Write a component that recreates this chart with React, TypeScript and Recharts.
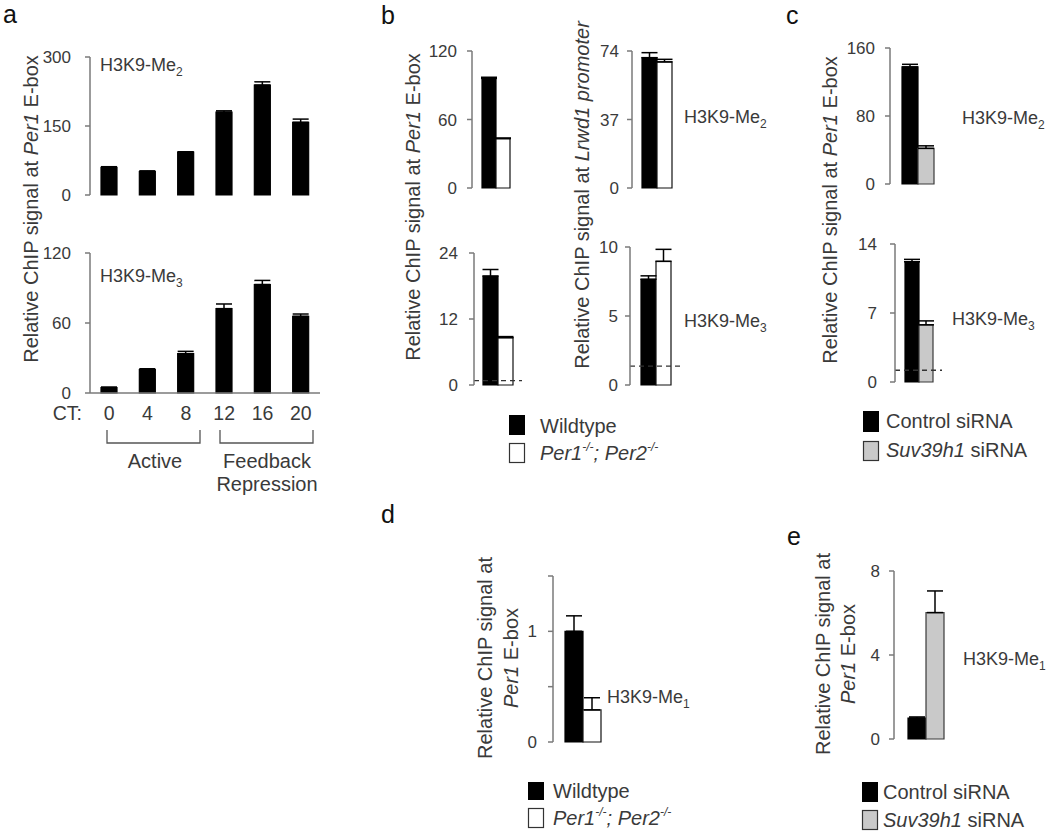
import React from "react";
import { BarChart, Bar, XAxis, YAxis, ErrorBar, ReferenceLine } from "recharts";

const FONT = '"Liberation Sans", Arial, sans-serif';
const INK = "#3a3a3a";
const AXIS = "#7a7a7a";

// panel a: H3K9 methylation at Per1 E-box across the day
const ctHours = ["0", "4", "8", "12", "16", "20"];
const me2ByCT = [60, 51, 93, 180, 239, 158];
const me2ByCTErr = [1.5, 1.5, 1, 3, 7, 7];
const me3ByCT = [4.6, 20, 33.7, 72.3, 93, 65.7];
const me3ByCTErr = [0.5, 0.8, 2, 4, 3.5, 2];

// panel b: wildtype vs Per1/Per2 double knockout
const bPer1Me2 = [96, 43.3];
const bPer1Me2Err = [1, 0.5];
const bLrwd1Me2 = [70.4, 68.1];
const bLrwd1Me2Err = [2.7, 1.4];
const bPer1Me3 = [19.8, 8.6];
const bPer1Me3Err = [1.2, 0.2];
const bLrwd1Me3 = [7.66, 8.96];
const bLrwd1Me3Err = [0.25, 0.87];
const bPer1Me3Bg = 0.8;
const bLrwd1Me3Bg = 1.37;

// panel c: control vs Suv39h1 siRNA
const cMe2 = [137.7, 41.9];
const cMe2Err = [3.1, 3];
const cMe3 = [12.2, 5.8];
const cMe3Err = [0.24, 0.4];
const cMe3Bg = 1.19;

// panels d, e: H3K9-Me1
const dMe1 = [1.0, 0.29];
const dMe1Err = [0.14, 0.11];
const eMe1 = [1.0, 6.02];
const eMe1Err = [0.05, 1.03];

const PAD = 12;

type BarStyle = { fill: string; stroke: string };
const BLACK: BarStyle = { fill: "#000", stroke: "#000" };
const WHITE: BarStyle = { fill: "#fff", stroke: "#111" };
const GREY: BarStyle = { fill: "#c9c9c9", stroke: "#3a3a3a" };

function pair(vals: number[], errs: number[]) {
  return [{ g: "", s0: vals[0], e0: [0, errs[0]], s1: vals[1], e1: [0, errs[1]] }];
}

function Mini(p: {
  left: number;
  top: number;
  base: number;
  right: number;
  max: number;
  ticks: number[];
  tickMargin: number;
  rows: any[];
  cat: string;
  keys: string[];
  errKeys: string[];
  styles: BarStyle[];
  barSize: number;
  bg?: number;
  fmt?: (v: number) => string;
  xLabels?: boolean;
}) {
  const YW = 50;
  const XH = p.xLabels ? 40 : 0;
  const plotH = p.base - p.top;
  const w = YW + (p.right - p.left) + 4;
  const h = PAD + plotH + XH + PAD;
  const baseY = PAD + plotH;
  const xTick = (t: any) => (
    <text x={t.x} y={baseY + 27} textAnchor="middle" fill={INK} fontSize={19.5} fontFamily={FONT}>
      {t.payload.value}
    </text>
  );
  return (
    <div style={{ position: "absolute", left: p.left - YW, top: p.top - PAD }}>
      <BarChart
        width={w}
        height={h}
        data={p.rows}
        margin={{ top: PAD, right: 4, bottom: PAD, left: 0 }}
        barGap={0}
        barSize={p.barSize}
      >
        <XAxis
          dataKey={p.cat}
          height={XH}
          axisLine={{ stroke: AXIS, strokeWidth: 1.5 }}
          tickLine={false}
          tick={p.xLabels ? xTick : false}
          interval={0}
        />
        <YAxis
          width={YW}
          domain={[0, p.max]}
          ticks={p.ticks}
          interval={0}
          tickSize={5}
          tickMargin={p.tickMargin}
          tickFormatter={p.fmt}
          axisLine={{ stroke: AXIS, strokeWidth: 1.5 }}
          tickLine={{ stroke: AXIS, strokeWidth: 1.5 }}
          tick={{ fill: INK, fontSize: 17, fontFamily: FONT }}
        />
        {p.keys.map((k, i) => (
          <Bar
            key={k}
            dataKey={k}
            fill={p.styles[i].fill}
            stroke={p.styles[i].stroke}
            strokeWidth={1.2}
            isAnimationActive={false}
          >
            <ErrorBar dataKey={p.errKeys[i]} width={8} stroke="#000" strokeWidth={1.5} direction="y" />
          </Bar>
        ))}
        {p.bg !== undefined && (
          <ReferenceLine y={p.bg} stroke="#333" strokeWidth={1.3} strokeDasharray="5 4" />
        )}
      </BarChart>
    </div>
  );
}

function YLabel({ x, y, gene, tail }: { x: number; y: number; gene: string; tail?: string }) {
  return (
    <text
      x={x}
      y={y}
      transform={`rotate(-90 ${x} ${y})`}
      textAnchor="middle"
      dominantBaseline="central"
      fontSize={20}
    >
      Relative ChIP signal at <tspan fontStyle="italic">{gene}</tspan>
      {tail ? ` ${tail}` : ""}
    </text>
  );
}

function Mark({ x, y, n }: { x: number; y: number; n: string }) {
  return (
    <text x={x} y={y} fontSize={18}>
      H3K9-Me<tspan fontSize={12} dy={5}>{n}</tspan>
    </text>
  );
}

function KnockoutLabel({ x, y }: { x: number; y: number }) {
  return (
    <text x={x} y={y} fontSize={20} fontStyle="italic">
      Per1<tspan fontSize={12} dy={-9}>-/-</tspan>
      <tspan dy={9}>; Per2</tspan>
      <tspan fontSize={12} dy={-9}>-/-</tspan>
    </text>
  );
}

export default function App() {
  const aRows2 = ctHours.map((c, i) => ({ ct: c, v: me2ByCT[i], e: [0, me2ByCTErr[i]] }));
  const aRows3 = ctHours.map((c, i) => ({ ct: c, v: me3ByCT[i], e: [0, me3ByCTErr[i]] }));
  const two = ["s0", "s1"];
  const twoErr = ["e0", "e1"];

  return (
    <div
      style={{
        position: "absolute",
        left: 0,
        top: 0,
        width: 1050,
        height: 832,
        background: "#fff",
        overflow: "hidden",
        fontFamily: FONT,
      }}
    >
      {/* a */}
      <Mini left={90} top={57} base={195} right={320} max={300} ticks={[0, 150, 300]} tickMargin={14}
        rows={aRows2} cat="ct" keys={["v"]} errKeys={["e"]} styles={[BLACK]} barSize={16} />
      <Mini left={90} top={253} base={393} right={320} max={120} ticks={[0, 60, 120]} tickMargin={14}
        rows={aRows3} cat="ct" keys={["v"]} errKeys={["e"]} styles={[BLACK]} barSize={16} xLabels />

      {/* b */}
      <Mini left={472} top={51} base={188} right={520} max={120} ticks={[0, 60, 120]} tickMargin={10}
        rows={pair(bPer1Me2, bPer1Me2Err)} cat="g" keys={two} errKeys={twoErr} styles={[BLACK, WHITE]} barSize={14} />
      <Mini left={632} top={51} base={188} right={682} max={74} ticks={[0, 37, 74]} tickMargin={8}
        rows={pair(bLrwd1Me2, bLrwd1Me2Err)} cat="g" keys={two} errKeys={twoErr} styles={[BLACK, WHITE]} barSize={15} />
      <Mini left={474} top={253} base={385} right={522} max={24} ticks={[0, 12, 24]} tickMargin={11}
        rows={pair(bPer1Me3, bPer1Me3Err)} cat="g" keys={two} errKeys={twoErr} styles={[BLACK, WHITE]} barSize={15}
        bg={bPer1Me3Bg} />
      <Mini left={630} top={247} base={385} right={682} max={10} ticks={[0, 5, 10]} tickMargin={7}
        rows={pair(bLrwd1Me3, bLrwd1Me3Err)} cat="g" keys={two} errKeys={twoErr} styles={[BLACK, WHITE]} barSize={15}
        bg={bLrwd1Me3Bg} />

      {/* c */}
      <Mini left={890} top={48} base={184} right={946} max={160} ticks={[0, 80, 160]} tickMargin={10}
        rows={pair(cMe2, cMe2Err)} cat="g" keys={two} errKeys={twoErr} styles={[BLACK, GREY]} barSize={16} />
      <Mini left={895} top={244} base={382} right={942} max={14} ticks={[0, 7, 14]} tickMargin={13}
        rows={pair(cMe3, cMe3Err)} cat="g" keys={two} errKeys={twoErr} styles={[BLACK, GREY]} barSize={14}
        bg={cMe3Bg} />

      {/* d */}
      <Mini left={553} top={576} base={742} right={613} max={1.5} ticks={[0, 0.5, 1, 1.5]} tickMargin={11}
        fmt={(v) => (v === 0 || v === 1 ? String(v) : "")}
        rows={pair(dMe1, dMe1Err)} cat="g" keys={two} errKeys={twoErr} styles={[BLACK, WHITE]} barSize={18} />

      {/* e */}
      <Mini left={894} top={571} base={739} right={957} max={8} ticks={[0, 4, 8]} tickMargin={9}
        rows={pair(eMe1, eMe1Err)} cat="g" keys={two} errKeys={twoErr} styles={[BLACK, GREY]} barSize={18} />

      <svg
        width={1050}
        height={832}
        style={{ position: "absolute", left: 0, top: 0, pointerEvents: "none" }}
        fontFamily={FONT}
        fill={INK}
      >
        {/* panel letters */}
        <g fontSize={25} fill="#111">
          <text x={3} y={23}>a</text>
          <text x={381} y={24}>b</text>
          <text x={786} y={24}>c</text>
          <text x={381} y={523}>d</text>
          <text x={787} y={545}>e</text>
        </g>

        {/* axis titles */}
        <YLabel x={31} y={209} gene="Per1" tail="E-box" />
        <YLabel x={413} y={207} gene="Per1" tail="E-box" />
        <YLabel x={582} y={195} gene="Lrwd1 promoter" />
        <YLabel x={830} y={210} gene="Per1" tail="E-box" />

        <g fontSize={20} textAnchor="middle" dominantBaseline="central">
          <text x={485} y={658} transform="rotate(-90 485 658)">Relative ChIP signal at</text>
          <text x={511} y={658} transform="rotate(-90 511 658)">
            <tspan fontStyle="italic">Per1</tspan> E-box
          </text>
          <text x={823} y={654} transform="rotate(-90 823 654)">Relative ChIP signal at</text>
          <text x={848} y={654} transform="rotate(-90 848 654)">
            <tspan fontStyle="italic">Per1</tspan> E-box
          </text>
        </g>

        {/* mark labels */}
        <Mark x={100} y={71} n="2" />
        <Mark x={100} y={282} n="3" />
        <Mark x={684} y={123} n="2" />
        <Mark x={684} y={327} n="3" />
        <Mark x={962} y={124} n="2" />
        <Mark x={952} y={325} n="3" />
        <Mark x={607} y={703} n="1" />
        <Mark x={963} y={665} n="1" />

        {/* panel a time annotations */}
        <text x={82} y={420} fontSize={19.5} textAnchor="end">CT:</text>
        <path d="M107 430 V443 H200 V430 M220 430 V443 H313 V430" stroke="#555" strokeWidth={1.3} fill="none" />
        <g fontSize={20} textAnchor="middle">
          <text x={155} y={468}>Active</text>
          <text x={267} y={468}>Feedback</text>
          <text x={267} y={491}>Repression</text>
        </g>

        {/* legends */}
        <rect x={509} y={415} width={16} height={20} fill="#000" />
        <text x={540} y={433} fontSize={20}>Wildtype</text>
        <rect x={509.5} y={443.5} width={15} height={19} fill="#fff" stroke="#333" strokeWidth={1.2} />
        <KnockoutLabel x={540} y={460} />

        <rect x={863} y={411} width={16} height={21} fill="#000" />
        <text x={886} y={428} fontSize={20}>Control siRNA</text>
        <rect x={863.5} y={441.5} width={15} height={19} fill="#c9c9c9" stroke="#333" strokeWidth={1.2} />
        <text x={886} y={457} fontSize={20}>
          <tspan fontStyle="italic">Suv39h1</tspan> siRNA
        </text>

        <rect x={528} y={782} width={16} height={18} fill="#000" />
        <text x={553} y={798} fontSize={20}>Wildtype</text>
        <rect x={528.5} y={808.5} width={15} height={19} fill="#fff" stroke="#333" strokeWidth={1.2} />
        <KnockoutLabel x={553} y={825} />

        <rect x={862} y={782} width={16} height={20} fill="#000" />
        <text x={883} y={799} fontSize={20}>Control siRNA</text>
        <rect x={862.5} y={810.5} width={15} height={19} fill="#c9c9c9" stroke="#333" strokeWidth={1.2} />
        <text x={883} y={827} fontSize={20}>
          <tspan fontStyle="italic">Suv39h1</tspan> siRNA
        </text>
      </svg>
    </div>
  );
}
